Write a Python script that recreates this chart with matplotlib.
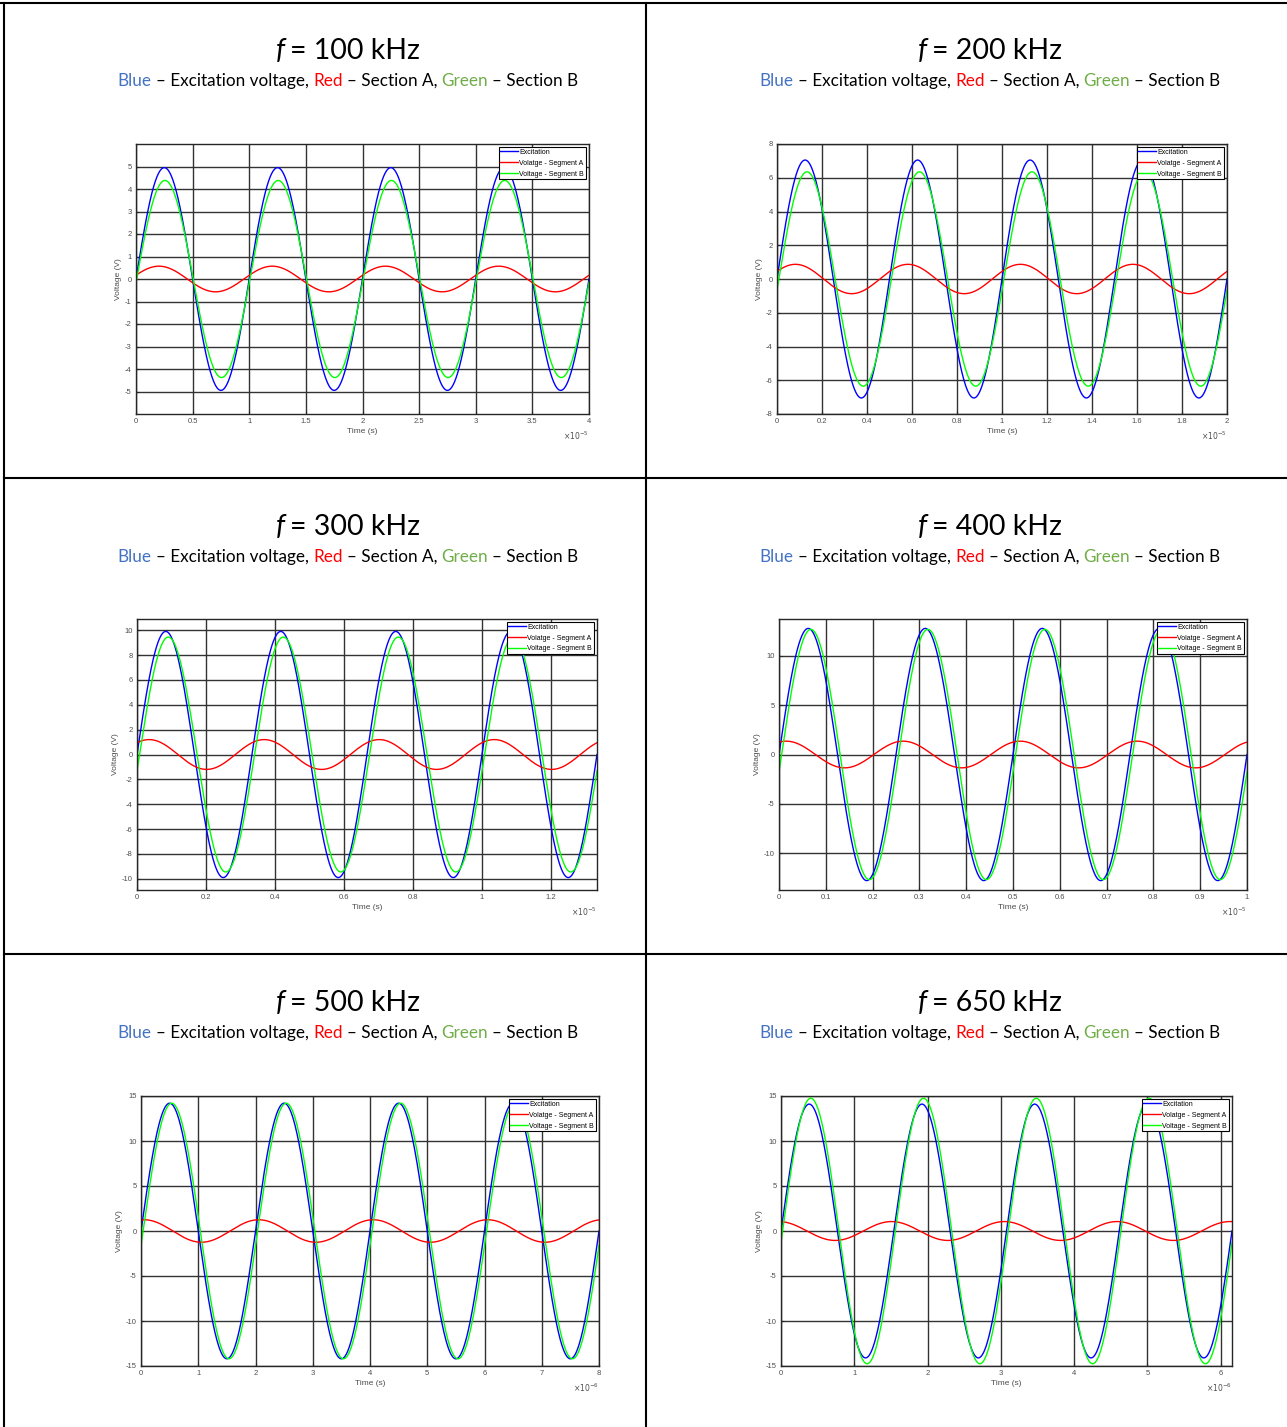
import numpy as np
import matplotlib
matplotlib.use('Agg')
from matplotlib import pyplot as plt
from matplotlib import ticker
from matplotlib.lines import Line2D
from matplotlib.offsetbox import TextArea, HPacker, AnchoredOffsetbox

plt.rcParams['font.family'] = ['Liberation Sans', 'DejaVu Sans']

# values
freqs_khz = [100, 200, 300, 400, 500, 650]
exc_amp = [4.95, 7.05, 9.9, 12.75, 14.2, 14.1]      # excitation amplitude (V)
segA_amp = [0.57, 0.87, 1.2, 1.35, 1.25, 1.05]      # section A amplitude (V)
segA_phase = [17, 31, 52, 68, 80, 97]               # section A phase lead (deg)
segB_amp = [4.38, 6.35, 9.45, 12.65, 14.2, 14.75]   # section B amplitude (V)
segB_phase = [-2, -6, -8, -8, -6.5, -5]             # section B phase (deg)
n_periods = 4

ylims = [6, 8, 10.9, 13.7, 15, 15]
yticks = [np.arange(-5, 6, 1), np.arange(-8, 9, 2), np.arange(-10, 11, 2),
          np.arange(-10, 11, 5), np.arange(-15, 16, 5), np.arange(-15, 16, 5)]
xstep = [0.5e-5, 0.2e-5, 0.2e-5, 0.1e-5, 1e-6, 1e-6]
xexp = [-5, -5, -5, -5, -6, -6]

legend_labels = ['Excitation', 'Volatge - Segment A', 'Voltage - Segment B']

W, H = 1287, 1427
fig = plt.figure(figsize=(W / 100, H / 100), dpi=100)

# axes boxes in pixels: left, right, top, bottom
boxes = [(136, 589, 144, 414), (777, 1227, 144, 414),
         (137, 597, 619, 890), (779, 1247, 619, 890),
         (141, 599, 1096, 1366), (781, 1232, 1096, 1366)]
col_cx = [348, 990]
row_dy = 476
grey = (0.3, 0.3, 0.3)


class MatFmt(ticker.Formatter):
    def __init__(self, e):
        self.e = e

    def __call__(self, x, pos=None):
        return '%g' % round(x / 10 ** self.e, 6)

    def get_offset(self):
        return r'$\times10^{%d}$' % self.e


def heading(cx, cy_t, cy_s, f):
    tf = dict(family='Lato', fontsize=20.5, color='black')
    title = HPacker(children=[TextArea('f', textprops=dict(tf, fontstyle='italic')),
                              TextArea('= %d kHz' % f, textprops=tf)],
                    sep=4, align='baseline', pad=0)
    fig.add_artist(AnchoredOffsetbox(loc='center', child=title, pad=0, borderpad=0,
                                     frameon=False, bbox_to_anchor=(cx / W, 1 - cy_t / H),
                                     bbox_transform=fig.transFigure))
    sf = dict(family='Lato', fontsize=12.3)
    parts = [('Blue', '#4472C4'), ('– Excitation voltage,', 'black'),
             ('Red', '#FF0000'), ('– Section A,', 'black'),
             ('Green', '#70AD47'), ('– Section B', 'black')]
    sub = HPacker(children=[TextArea(s, textprops=dict(sf, color=c)) for s, c in parts],
                  sep=3, align='baseline', pad=0)
    fig.add_artist(AnchoredOffsetbox(loc='center', child=sub, pad=0, borderpad=0,
                                     frameon=False, bbox_to_anchor=(cx / W, 1 - cy_s / H),
                                     bbox_transform=fig.transFigure))


for i, f in enumerate(freqs_khz):
    l, r, t, b = boxes[i]
    ax = fig.add_axes([l / W, 1 - b / H, (r - l) / W, (b - t) / H])
    fr = f * 1e3
    tmax = n_periods / fr
    tt = np.linspace(0, tmax, 2000)
    w = 2 * np.pi * fr
    ax.plot(tt, exc_amp[i] * np.sin(w * tt), color=(0, 0, 1), lw=1.0, label=legend_labels[0])
    ax.plot(tt, segA_amp[i] * np.sin(w * tt + np.deg2rad(segA_phase[i])), color=(1, 0, 0),
            lw=1.0, label=legend_labels[1])
    ax.plot(tt, segB_amp[i] * np.sin(w * tt + np.deg2rad(segB_phase[i])), color=(0, 1, 0),
            lw=1.0, label=legend_labels[2])
    ax.set_xlim(0, tmax)
    ax.set_ylim(-ylims[i], ylims[i])
    ax.set_yticks(yticks[i])
    ax.xaxis.set_major_locator(ticker.MultipleLocator(xstep[i]))
    ax.xaxis.set_major_formatter(MatFmt(xexp[i]))
    ax.yaxis.set_major_formatter(ticker.FuncFormatter(lambda v, p: '%g' % v))
    ax.grid(True, color=(0.2, 0.2, 0.2), lw=1.0)
    ax.set_axisbelow(True)
    ax.tick_params(direction='in', length=2.5, labelsize=5.5, labelcolor=grey,
                   color=(0.15, 0.15, 0.15), pad=3)
    ax.xaxis.get_offset_text().set_fontsize(5.5)
    ax.xaxis.get_offset_text().set_color(grey)
    for s in ax.spines.values():
        s.set_color((0.15, 0.15, 0.15))
        s.set_linewidth(1.0)
    ax.set_xlabel('Time (s)', fontsize=6, color=grey, labelpad=2)
    ax.set_ylabel('Voltage (V)', fontsize=6, color=grey, labelpad=2)
    leg = ax.legend(loc='upper right', fontsize=5.0, frameon=True, fancybox=False,
                    edgecolor='black', framealpha=1, borderpad=0.25, labelspacing=0.55,
                    handlelength=2.6, handletextpad=0.15, borderaxespad=0.45)
    leg.get_frame().set_linewidth(0.8)

    col, row = i % 2, i // 2
    heading(col_cx[col], 51 + row * row_dy, 81 + row * row_dy, f)

# table borders
lw = 1.5
fig.add_artist(Line2D([0, 1], [1 - 3 / H] * 2, color='black', lw=lw))
fig.add_artist(Line2D([4 / W] * 2, [0, 1 - 3 / H], color='black', lw=lw))
fig.add_artist(Line2D([646 / W] * 2, [0, 1 - 3 / H], color='black', lw=lw))
for yy in [478, 954]:
    fig.add_artist(Line2D([4 / W, 1], [1 - yy / H] * 2, color='black', lw=lw))

plt.savefig('out.png', dpi=100)
